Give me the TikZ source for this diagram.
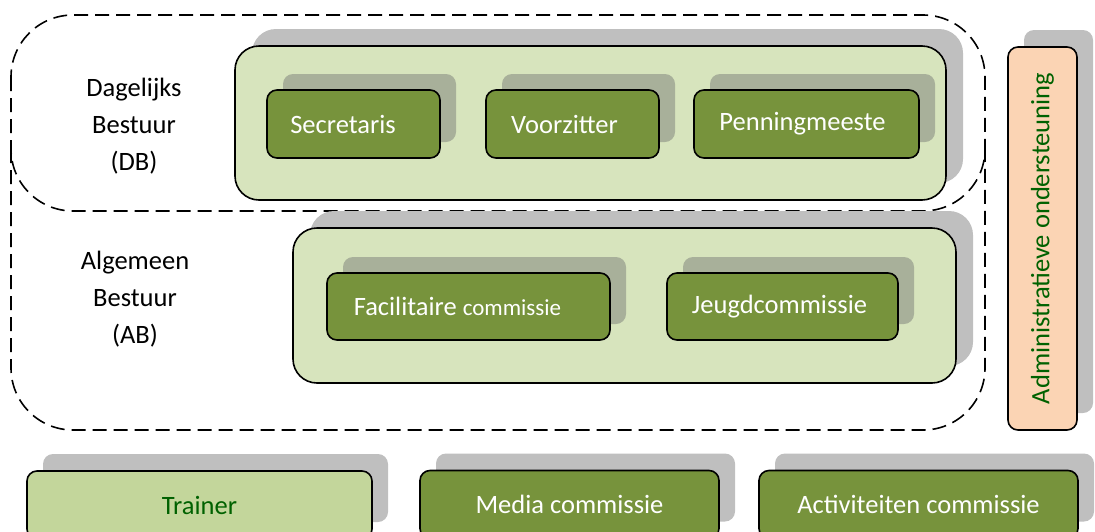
\documentclass[tikz,border=0pt]{standalone}
\usepackage{fontspec}
\setmainfont{Carlito}
\usetikzlibrary{shadows}
\definecolor{dkgreen}{HTML}{77933C}
\definecolor{ltgreen}{HTML}{D7E4BD}
\definecolor{trgreen}{HTML}{C3D69B}
\definecolor{peach}{HTML}{FBD4B4}
\definecolor{sgray}{HTML}{BFBFBF}
\definecolor{sgreen}{HTML}{A8B09A}
\definecolor{txtgreen}{HTML}{006100}
\begin{document}
\begin{tikzpicture}[x=1pt,y=-1pt,
  txt/.style={font=\fontsize{26.5}{37}\selectfont},
  dashline/.style={draw=black, line width=1.6pt, dash pattern=on 14pt off 7pt, rounded corners=62pt},
  container/.style={draw=black, line width=1.6pt, fill=ltgreen, rounded corners=24pt, inner sep=0pt,
    drop shadow={shadow xshift=17pt, shadow yshift=17pt, fill=sgray, opacity=1}},
  boxbase/.style={draw=black, line width=1.6pt, rounded corners=10pt, inner sep=0pt, txt},
  member/.style={boxbase, fill=dkgreen, text=white, minimum height=68pt,
    drop shadow={shadow xshift=16pt, shadow yshift=16pt, fill=sgreen, opacity=1}},
  outerbox/.style={boxbase, minimum height=68pt,
    drop shadow={shadow xshift=16pt, shadow yshift=17pt, fill=sgray, opacity=1}},
  lbl/.style={txt, align=center}
]
\clip (0,0) rectangle (1095,531);
% dashed groupings
\draw[dashline] (11,15) rectangle (985,211);
\draw[dashline] (11,149) -- (11,430) -- (985,430) -- (985,149);
% containers
\node[container, minimum width=711pt, minimum height=154pt] (db) at (590.5,123) {};
\node[container, minimum width=663pt, minimum height=155pt] (ab) at (624.5,305.5) {};
% DB members
\node[member, minimum width=173pt] (secr) at (353.5,124) {Secretaris\hspace*{21pt}};
\node[member, minimum width=173pt] (voorz) at (572.5,124) {Voorzitter\hspace*{16pt}};
\node[member, minimum width=225pt] (penn) at (806.5,124) {Penningmeeste\hspace*{8pt}};
% AB members
\node[member, minimum width=283pt, minimum height=67pt] (facil) at (468.5,306.5) {Facilitaire {\fontsize{23}{28}\selectfont commissie}\hspace*{22pt}};
\node[member, minimum width=231pt, minimum height=67pt] (jeugd) at (782.5,306.5) {Jeugdcommissie\hspace*{6pt}};
% labels
\node[lbl] (dblabel) at (134,126) {Dagelijks\\Bestuur\\(DB)};
\node[lbl] (ablabel) at (135,299) {Algemeen\\Bestuur\\(AB)};
% admin support
\node[outerbox, fill=peach, text=txtgreen, minimum width=69pt, minimum height=383pt] (admin) at (1042.5,238.5) {};
\node[txt, text=txtgreen, rotate=90] (admintxt) at (admin.center) {Administratieve ondersteuning};
% bottom row
\node[outerbox, fill=trgreen, text=txtgreen, minimum width=345pt] (trainer) at (199.5,505) {Trainer};
\node[outerbox, fill=dkgreen, text=white, minimum width=299pt] (media) at (569.5,504.5) {Media commissie};
\node[outerbox, fill=dkgreen, text=white, minimum width=319pt] (activ) at (918.5,504.5) {Activiteiten commissie};
\end{tikzpicture}
\end{document}
